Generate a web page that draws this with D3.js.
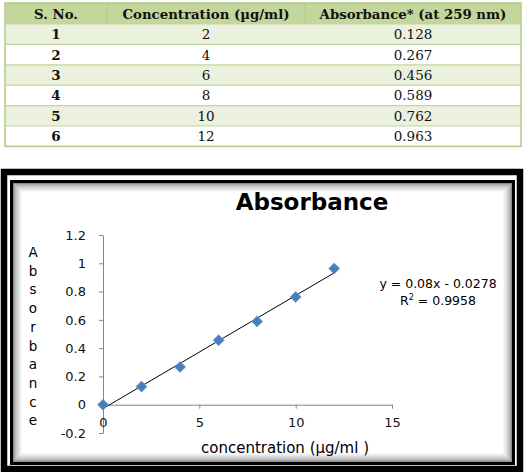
<!DOCTYPE html>
<html>
<head>
<meta charset="utf-8">
<script src="https://cdn.jsdelivr.net/npm/d3@7"></script>
<style>
  body { margin: 0; background: #fff; }
  svg { display: block; }
</style>
</head>
<body>
<svg id="chart" width="526" height="472"></svg>
<script>
// table data
const headers = ['S. No.', 'Concentration (µg/ml)', 'Absorbance* (at 259 nm)']
const serialNo = [1, 2, 3, 4, 5, 6]
const concentration = [2, 4, 6, 8, 10, 12]
const absorbance = ['0.128', '0.267', '0.456', '0.589', '0.762', '0.963']

// chart data (includes the blank at 0)
const chartConc = [0, 2, 4, 6, 8, 10, 12]
const chartAbs = [0, 0.128, 0.267, 0.456, 0.589, 0.762, 0.963]
const trendSlope = 0.08
const trendIntercept = -0.0278
const xTicks = [0, 5, 10, 15]
const yTicks = [-0.2, 0, 0.2, 0.4, 0.6, 0.8, 1, 1.2]
const yTickLabels = ['-0.2', '0', '0.2', '0.4', '0.6', '0.8', '1', '1.2']

const svg = d3.select('#chart')

/**
 * Draws the green banded table at the top
 */
function drawTable () {
  const colEdges = [5, 107, 305, 521]
  const top = 3
  const headH = 21
  const rowH = 20.4
  const g = svg.append('g').attr('class', 'table')

  g.append('rect')
    .attr('x', colEdges[0]).attr('y', top)
    .attr('width', colEdges[3] - colEdges[0]).attr('height', headH)
    .attr('fill', '#c3d69b')

  const rows = serialNo.map((s, i) => [s, concentration[i], absorbance[i]])

  g.selectAll('rect.row')
    .data(rows)
    .enter()
    .append('rect')
    .attr('class', 'row')
    .attr('x', colEdges[0])
    .attr('y', (d, i) => top + headH + i * rowH)
    .attr('width', colEdges[3] - colEdges[0])
    .attr('height', rowH)
    .attr('fill', (d, i) => i % 2 === 0 ? '#ebf1de' : '#ffffff')

  // horizontal lines
  for (let i = 0; i <= rows.length; i++) {
    g.append('line')
      .attr('x1', colEdges[0]).attr('x2', colEdges[3])
      .attr('y1', top + headH + i * rowH).attr('y2', top + headH + i * rowH)
      .attr('stroke', '#c3d69b').attr('stroke-width', 1.2)
  }
  // header column separators
  g.selectAll('line.vsep')
    .data(colEdges.slice(1, 3))
    .enter()
    .append('line')
    .attr('class', 'vsep')
    .attr('x1', d => d).attr('x2', d => d)
    .attr('y1', top).attr('y2', top + headH)
    .attr('stroke', '#b3cb84').attr('stroke-width', 1)

  g.append('rect')
    .attr('x', colEdges[0]).attr('y', top)
    .attr('width', colEdges[3] - colEdges[0])
    .attr('height', headH + rows.length * rowH)
    .attr('fill', 'none')
    .attr('stroke', '#b3cb84').attr('stroke-width', 1.5)

  const centers = colEdges.slice(0, 3).map((e, i) => (e + colEdges[i + 1]) / 2)

  g.selectAll('text.head')
    .data(headers)
    .enter()
    .append('text')
    .attr('class', 'head')
    .attr('x', (d, i) => centers[i])
    .attr('y', top + headH / 2 + 5)
    .attr('text-anchor', 'middle')
    .attr('font-family', 'DejaVu Serif')
    .attr('font-weight', 'bold')
    .attr('font-size', 13.3)
    .attr('fill', '#111')
    .text(d => d)

  rows.forEach((r, i) => {
    g.selectAll(null)
      .data(r)
      .enter()
      .append('text')
      .attr('x', (d, j) => centers[j])
      .attr('y', top + headH + i * rowH + rowH / 2 + 5)
      .attr('text-anchor', 'middle')
      .attr('font-family', 'DejaVu Serif')
      .attr('font-weight', (d, j) => j === 0 ? 'bold' : 'normal')
      .attr('font-size', 13.5)
      .attr('fill', '#111')
      .text(d => d)
  })
}

/**
 * Draws the double black frame with the inner shadow
 */
function drawFrame () {
  const g = svg.append('g').attr('class', 'frame')
  g.append('rect')
    .attr('x', 4).attr('y', 172).attr('width', 516).attr('height', 297)
    .attr('fill', 'none').attr('stroke', '#000').attr('stroke-width', 6.5)
  g.append('rect')
    .attr('x', 11.5).attr('y', 181.5).attr('width', 502).attr('height', 282)
    .attr('fill', '#fff').attr('stroke', '#000').attr('stroke-width', 3)
  // inner shadow, fading inward
  const shades = d3.range(0, 10)
  g.selectAll('rect.shade')
    .data(shades)
    .enter()
    .append('rect')
    .attr('class', 'shade')
    .attr('x', d => 13.5 + d).attr('y', d => 183.5 + d)
    .attr('width', d => 498 - 2 * d).attr('height', d => 278 - 2 * d)
    .attr('fill', 'none')
    .attr('stroke', d => d3.interpolateRgb('#8a8a8a', '#ffffff')(Math.pow(d / 9, 0.6)))
    .attr('stroke-width', 1)
}

/**
 * Draws the calibration scatter with its trend line
 */
function drawChart () {
  const xScale = d3.scaleLinear().domain([0, 15]).range([103, 392])
  const yScale = d3.scaleLinear().domain([-0.2, 1.2]).range([433, 235])
  const g = svg.append('g').attr('class', 'plot')

  const yAxis = g.append('g')
    .attr('transform', 'translate(103,0)')
    .call(d3.axisLeft(yScale).tickValues(yTicks).tickSizeInner(4).tickSizeOuter(0).tickPadding(13)
      .tickFormat((d, i) => yTickLabels[i]))
  const xAxis = g.append('g')
    .attr('transform', `translate(0,${yScale(0)})`)
    .call(d3.axisBottom(xScale).tickValues(xTicks).tickSizeInner(4).tickSizeOuter(0).tickPadding(9))

  ;[yAxis, xAxis].forEach(a => {
    a.selectAll('path, line').attr('stroke', '#868686')
    a.selectAll('text')
      .attr('font-family', 'DejaVu Sans')
      .attr('font-size', 13)
      .attr('fill', '#111')
  })

  // trend line
  g.append('line')
    .attr('x1', xScale(0)).attr('y1', yScale(trendIntercept))
    .attr('x2', xScale(12)).attr('y2', yScale(trendSlope * 12 + trendIntercept))
    .attr('stroke', '#000').attr('stroke-width', 1)

  g.selectAll('path.pt')
    .data(chartConc)
    .enter()
    .append('path')
    .attr('class', 'pt')
    .attr('d', d3.symbol(d3.symbolSquare, 62))
    .attr('transform', (d, i) => `translate(${xScale(d)},${yScale(chartAbs[i])}) rotate(45)`)
    .attr('fill', '#4a7ebb')
    .attr('stroke', '#7aa0cf')
    .attr('stroke-width', 0.6)

  // title
  g.append('text')
    .attr('x', 312).attr('y', 210)
    .attr('text-anchor', 'middle')
    .attr('font-family', 'DejaVu Sans')
    .attr('font-weight', 'bold')
    .attr('font-size', 23)
    .attr('fill', '#000')
    .text('Absorbance')

  // x axis title
  g.append('text')
    .attr('x', 285).attr('y', 453)
    .attr('text-anchor', 'middle')
    .attr('font-family', 'DejaVu Sans')
    .attr('font-size', 15)
    .attr('fill', '#000')
    .text('concentration (µg/ml )')

  // y axis title, stacked letters
  g.selectAll('text.ylet')
    .data('Absorbance'.split(''))
    .enter()
    .append('text')
    .attr('class', 'ylet')
    .attr('x', 33)
    .attr('y', (d, i) => 257 + i * 18.7)
    .attr('text-anchor', 'middle')
    .attr('font-family', 'DejaVu Sans')
    .attr('font-size', 13.5)
    .attr('fill', '#000')
    .text(d => d)

  // equation
  g.append('text')
    .attr('x', 438).attr('y', 288)
    .attr('text-anchor', 'middle')
    .attr('font-family', 'DejaVu Sans')
    .attr('font-size', 12.5)
    .attr('fill', '#000')
    .text(`y = ${trendSlope}x - ${Math.abs(trendIntercept)}`)
  const r2 = g.append('text')
    .attr('x', 438).attr('y', 305)
    .attr('text-anchor', 'middle')
    .attr('font-family', 'DejaVu Sans')
    .attr('font-size', 12.5)
    .attr('fill', '#000')
  r2.append('tspan').text('R')
  r2.append('tspan').attr('font-size', 8).attr('dy', -5).text('2')
  r2.append('tspan').attr('dy', 5).text(' = 0.9958')
}

drawTable()
drawFrame()
drawChart()
</script>
</body>
</html>
